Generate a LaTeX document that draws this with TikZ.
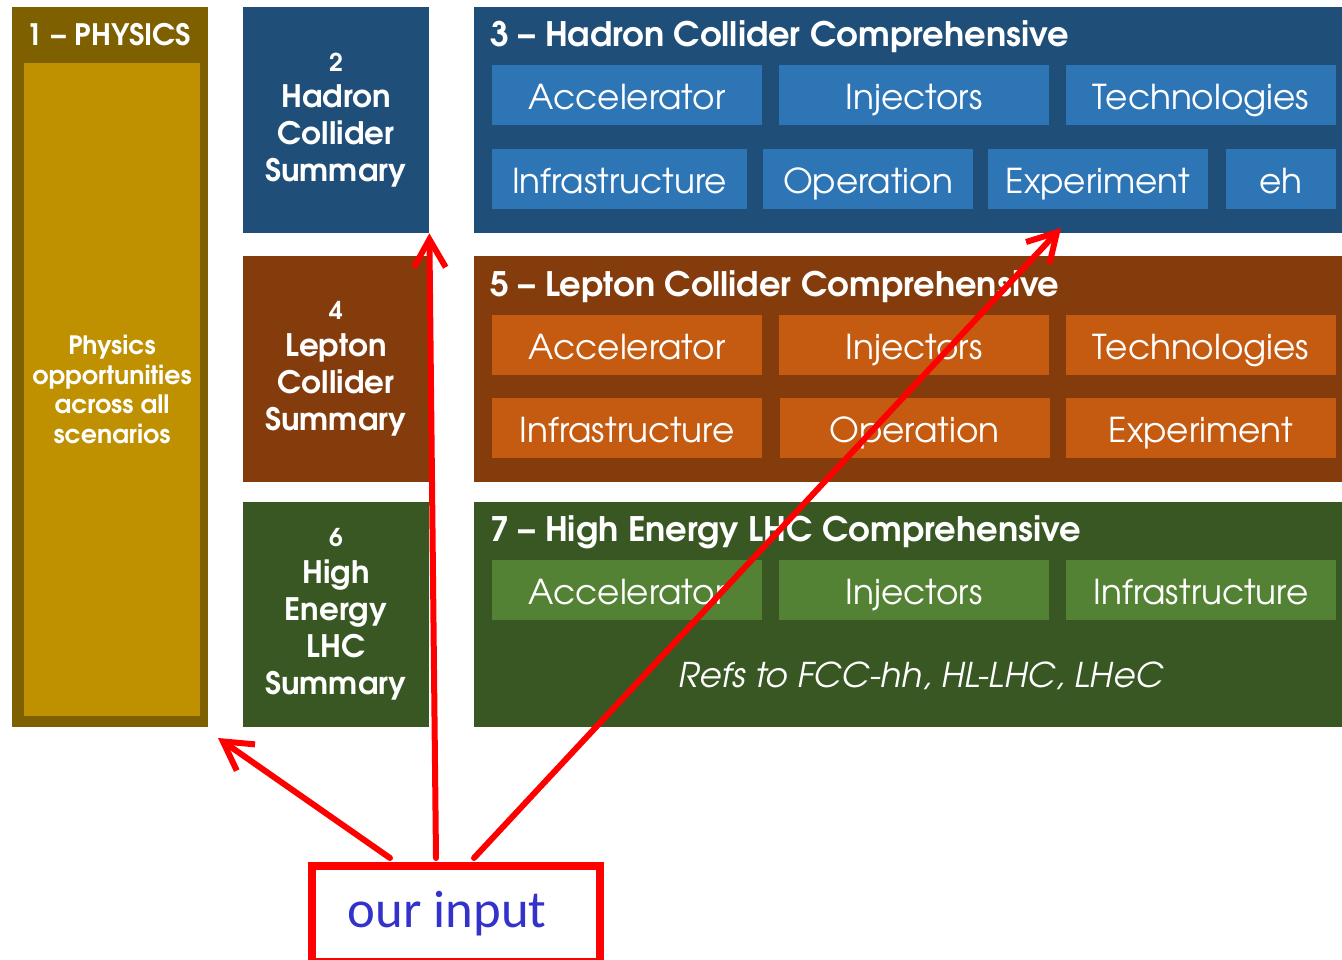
\documentclass[tikz,border=0pt]{standalone}
\usepackage{fontspec}
\usepackage{tikz}
\usetikzlibrary{arrows.meta,positioning,calc}
\newfontfamily\gothic{texgyreadventor}[Extension=.otf, Ligatures=TeX, UprightFont=*-regular, BoldFont=*-bold, ItalicFont=*-italic, BoldItalicFont=*-bolditalic]
\newfontfamily\calib{Carlito}
\newcommand{\boxnum}[1]{{\fontsize{14}{15}\selectfont #1}}
\definecolor{physdark}{HTML}{7F6000}
\definecolor{physlight}{HTML}{BF9000}
\definecolor{haddark}{HTML}{1F4E79}
\definecolor{hadlight}{HTML}{2E75B6}
\definecolor{lepdark}{HTML}{843C0C}
\definecolor{leplight}{HTML}{C55A11}
\definecolor{hedark}{HTML}{385723}
\definecolor{helight}{HTML}{548235}
\definecolor{inputblue}{HTML}{3333CC}

\begin{document}
\begin{tikzpicture}[x=0.2mm, y=-0.2mm,
  every node/.style={text=white, inner sep=0pt},
  block/.style={minimum width=37.2mm, minimum height=45.2mm, align=center,
    font=\gothic\bfseries\fontsize{17.6}{21}\selectfont},
  wide/.style={minimum width=173.6mm, minimum height=45.2mm},
  title/.style={anchor=west, font=\gothic\bfseries\fontsize{19.2}{21}\selectfont},
  cell/.style={minimum height=12mm, minimum width=54mm, text height=21pt, text depth=4pt,
    font=\gothic\fontsize{19.5}{24}\selectfont},
  link/.style={red, line width=1.2mm, line cap=round, line join=round,
    -{Straight Barb[length=5.6mm, width=6.4mm]}}]
  \useasboundingbox (0,0) rectangle (1342,960);

  % physics column
  \node[fill=physdark, minimum width=39.2mm, minimum height=144mm] (phys) at (110,367) {};
  \node[fill=physlight, minimum width=35.2mm, minimum height=130.6mm, align=center,
    font=\gothic\bfseries\fontsize{14.4}{17}\selectfont] (physin) at (112,389.5)
    {Physics\\opportunities\\across all\\scenarios};
  \node[font=\gothic\bfseries\fontsize{16.8}{18}\selectfont] (phystitle) at (109,35) {1 -- PHYSICS};

  % summaries
  \node[block, fill=haddark] (hadsum) at (336,120)
    {\boxnum{2}\\Hadron\\Collider\\Summary};
  \node[block, fill=lepdark] (lepsum) at (336,369)
    {\boxnum{4}\\Lepton\\Collider\\Summary};
  \node[block, fill=hedark, minimum height=45mm] (hesum) at (336,614.5)
    {\boxnum{6}\\High\\Energy\\LHC\\Summary};

  % hadron comprehensive
  \node[wide, fill=haddark] (had) at (908,120) {};
  \node[title] (hadtitle) at (490,37) {3 -- Hadron Collider Comprehensive};
  \node[cell, fill=hadlight] (hadacc) at (627,95) {Accelerator};
  \node[cell, fill=hadlight] (hadinj) at (914,95) {Injectors};
  \node[cell, fill=hadlight] (hadtec) at (1201,95) {Technologies};
  \node[cell, fill=hadlight, minimum width=51mm] (hadinf) at (619.5,179) {Infrastructure};
  \node[cell, fill=hadlight, minimum width=42mm] (hadop) at (868,179) {Operation};
  \node[cell, fill=hadlight, minimum width=44mm] (hadexp) at (1098,179) {Experiment};
  \node[cell, fill=hadlight, minimum width=22mm] (hadeh) at (1281,179) {eh};

  % lepton comprehensive
  \node[wide, fill=lepdark] (lep) at (908,369) {};
  \node[title] (leptitle) at (490,287) {5 -- Lepton Collider Comprehensive};
  \node[cell, fill=leplight] (lepacc) at (627,345) {Accelerator};
  \node[cell, fill=leplight] (lepinj) at (914,345) {Injectors};
  \node[cell, fill=leplight] (leptec) at (1201,345) {Technologies};
  \node[cell, fill=leplight] (lepinf) at (627,428) {Infrastructure};
  \node[cell, fill=leplight] (lepop) at (914.5,428) {Operation};
  \node[cell, fill=leplight] (lepexp) at (1201,428) {Experiment};

  % high energy LHC comprehensive
  \node[wide, fill=hedark, minimum height=45mm] (he) at (908,614.5) {};
  \node[title] (hetitle) at (490,532) {7 -- High Energy LHC Comprehensive};
  \node[cell, fill=helight] (heacc) at (627,590) {Accelerator};
  \node[cell, fill=helight] (heinj) at (914,590) {Injectors};
  \node[cell, fill=helight] (heinf) at (1201,590) {Infrastructure};
  \node[font=\gothic\itshape\fontsize{19.4}{22}\selectfont] (heref) at (921,676)
    {Refs to FCC-hh, HL-LHC, LHeC};

  % our input
  \node[draw=red, line width=1.6mm, fill=white, minimum width=57.6mm, minimum height=19.2mm,
    text=inputblue, font=\calib\fontsize{30}{34}\selectfont] (ours) at (456,914)
    {\hspace*{-10pt}our input};
  \coordinate (physend) at (218,738);
  \coordinate (hadend) at (1061,228);
  \draw[link] ($(ours.north)+(-66,-4)$) -- (physend);
  \draw[link] ($(ours.north)+(-20,-4)$) -- (hadsum.south east);
  \draw[link] ($(ours.north)+(18,-4)$) -- (hadend);
\end{tikzpicture}
\end{document}
